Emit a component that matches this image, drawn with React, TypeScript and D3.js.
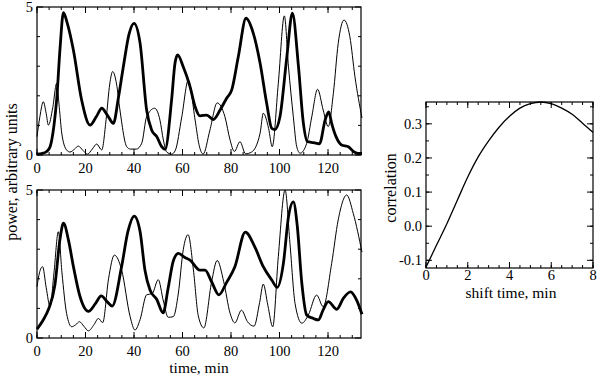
import React from 'react';
import * as d3 from 'd3';

type Pt = [number, number];

// power traces (time in min, power in arbitrary units)
const topThick: Pt[] = [
  [0, 0.03], [2, 0.05], [4, 0.12], [5.4, 0.28], [7, 1.0], [8.1, 1.86], [9.5, 3.6], [10.9, 4.81],
  [12.5, 4.45], [15, 3.55], [18.4, 1.86], [21.9, 1.01], [24.5, 1.3], [26.7, 1.58], [29, 1.35],
  [31.5, 1.07], [33.5, 1.9], [35.6, 2.98], [38, 4.1], [40, 4.45], [42.5, 3.78], [45.2, 1.52],
  [47.3, 0.84], [49.4, 0.62], [51.4, 0.28], [52.8, 0.19], [55.5, 1.86], [56.9, 3.1], [58, 3.38],
  [60.3, 2.98], [63.1, 2.31], [65.2, 1.63], [67.2, 1.32], [70, 1.35], [72.7, 1.2], [75.5, 1.52],
  [78.2, 1.92], [80.3, 2.2], [83, 3.32], [86.2, 4.62], [89.2, 4.11], [92, 3.1], [94.7, 1.75],
  [96.8, 0.9], [98.1, 0.86], [100.2, 1.3], [103, 3.3], [105.3, 4.79], [107.8, 3.0], [109.8, 1.1],
  [111.5, 0.45], [114, 0.42], [116.5, 0.38], [118.8, 1.18], [120.3, 1.46], [121.5, 1.07],
  [123.3, 0.62], [125.6, 0.34], [128.4, 0.28], [130.4, 0.12], [132.4, 0.05], [134, 0.05],
];

const topThin: Pt[] = [
  [0, 0.62], [1.2, 1.3], [2.6, 1.8], [3.8, 1.4], [4.7, 1.01], [6.5, 1.6], [8.1, 2.42], [9.2, 1.6],
  [10.2, 0.74], [12.2, 0.17], [13.6, 0.1], [15.5, 0.2], [17, 0.3], [19, 0.15], [20.8, 0.03],
  [22.8, 0.2], [24.6, 0.37], [26.7, 0.17], [28.5, 1.2], [30, 2.4], [31.2, 2.82], [32.8, 2.4],
  [34.2, 1.52], [37, 0.28], [38.5, 0.2], [41, 0.2], [43.2, 0.4], [45.2, 1.29], [48.5, 1.58],
  [50.7, 1.18], [52.1, 0.51], [53.5, 0.1], [55.5, 0.03], [57, 0.15], [59.7, 1.29], [62.4, 2.53],
  [65.2, 1.18], [66.8, 0.35], [68.5, 0.03], [71.3, 0.84], [74.3, 1.76], [77.5, 1.29], [79.6, 0.51],
  [81.4, 0.12], [83.7, 0.45], [86, 0.04], [88.5, 0.1], [92, 0.74], [93.3, 1.41], [95.5, 0.9],
  [97, 0.28], [99.5, 2.42], [102, 4.7], [103.7, 2.98], [105.7, 1.29], [107.1, 0.28], [108.5, 0.06],
  [111.2, 0.39], [113.3, 1.29], [115.7, 2.22], [118, 1.52], [120.1, 0.96], [122.2, 2.08],
  [124.2, 3.77], [126.6, 4.56], [129, 4.0], [131.1, 2.65], [134, 1.25],
];

const bottomThick: Pt[] = [
  [0, 0.3], [2.5, 0.6], [4.7, 0.96], [7.4, 1.8], [9.5, 3.35], [10.9, 3.88], [13, 3.3], [15, 2.42],
  [17.7, 1.41], [21.2, 0.9], [24, 1.15], [26.5, 1.42], [29, 1.22], [31, 1.08], [34.9, 2.42],
  [37.5, 3.6], [40.1, 4.12], [42.5, 3.6], [44.5, 2.3], [46.6, 1.62], [49.4, 1.3], [52, 0.85],
  [54.1, 1.7], [56.2, 2.6], [58.3, 2.86], [61, 2.72], [63.1, 2.63], [67.2, 2.29], [69.3, 2.29],
  [72, 1.9], [75, 1.46], [78.2, 1.88], [81.6, 2.41], [85.9, 3.58], [89.9, 3.06], [93.3, 2.41],
  [96.8, 1.96], [99.1, 1.71], [101.6, 2.52], [103.7, 4.1], [105.7, 4.6], [107.3, 3.8],
  [109.2, 1.85], [111.2, 0.78], [114, 0.66], [116, 0.61], [118, 0.95], [120.1, 1.23],
  [123.6, 0.97], [126.3, 1.34], [129.3, 1.56], [131.8, 1.28], [134, 0.8],
];

const bottomThin: Pt[] = [
  [0, 1.73], [1, 2.2], [2.3, 2.41], [3.8, 1.7], [5.4, 1.06], [7, 2.2], [8.8, 3.59], [10.3, 2.2],
  [12.2, 0.83], [14.3, 0.38], [16, 0.45], [17.5, 0.55], [19.3, 0.4], [21.2, 0.24], [23.5, 0.45],
  [25.3, 0.66], [27.1, 0.52], [29.5, 2.0], [31.9, 2.8], [34.9, 2.3], [38.4, 0.72], [40.4, 0.27],
  [42.5, 0.62], [45.2, 1.46], [47.5, 1.5], [50, 1.97], [52.1, 1.25], [54.1, 0.7], [56.2, 0.72],
  [58.3, 1.52], [60.3, 2.98], [62.3, 3.49], [64.5, 2.3], [66.5, 0.75], [68.8, 0.34], [72, 1.9],
  [74.3, 2.62], [77, 1.9], [79.6, 0.84], [81.6, 0.51], [84.3, 0.94], [86.8, 0.55], [89.5, 0.4],
  [91.8, 1.2], [93.3, 1.82], [95.2, 1.1], [97.2, 0.38], [99.5, 2.75], [102.3, 5.0], [104.3, 3.2],
  [106.4, 1.17], [109.2, 0.5], [111.9, 0.78], [115.3, 1.45], [118, 1.06], [121.5, 2.52],
  [124.2, 3.99], [127.7, 4.83], [130.4, 4.21], [134, 2.9],
];

// cross correlation vs shift time
const correlation: Pt[] = [
  [0, -0.12], [0.5, -0.056], [1, 0.007], [1.5, 0.076], [2, 0.144], [2.5, 0.203], [3, 0.25],
  [3.5, 0.29], [4, 0.322], [4.5, 0.346], [5, 0.359], [5.5, 0.364], [6, 0.359], [6.5, 0.346],
  [7, 0.328], [7.5, 0.302], [8, 0.275],
];

const timeTicks = [0, 20, 40, 60, 80, 100, 120];
const powerTicks = [0, 5];
const shiftTicks = [0, 2, 4, 6, 8];
const corrTicks = [-0.1, 0, 0.1, 0.2, 0.3];

const FONT = '"Liberation Serif", "DejaVu Serif", serif';

type FrameProps = {
  x: d3.ScaleLinear<number, number>;
  y: d3.ScaleLinear<number, number>;
  xMajor: number[];
  xMinor: number[];
  yMajor: number[];
  yMinor: number[];
  yFormat: (v: number) => string;
  labelGap: number;
};

// box with inward ticks on all four sides
const Frame = ({ x, y, xMajor, xMinor, yMajor, yMinor, yFormat, labelGap }: FrameProps) => {
  const [x0, x1] = x.range();
  const [y0, y1] = y.range(); // y0 bottom, y1 top
  const big = 6;
  const small = 3;
  return (
    <g stroke="#000" strokeWidth={1} fill="none">
      <rect x={x0} y={y1} width={x1 - x0} height={y0 - y1} strokeWidth={1.2} />
      {xMinor.map((v, i) => (
        <g key={'xm' + i}>
          <line x1={x(v)} x2={x(v)} y1={y0} y2={y0 - small} />
          <line x1={x(v)} x2={x(v)} y1={y1} y2={y1 + small} />
        </g>
      ))}
      {xMajor.map((v, i) => (
        <g key={'xM' + i}>
          <line x1={x(v)} x2={x(v)} y1={y0} y2={y0 - big} />
          <line x1={x(v)} x2={x(v)} y1={y1} y2={y1 + big} />
          <text x={x(v)} y={y0 + labelGap} textAnchor="middle" stroke="none" fill="#000"
            fontFamily={FONT} fontSize={14.5}>{v}</text>
        </g>
      ))}
      {yMinor.map((v, i) => (
        <g key={'ym' + i}>
          <line x1={x0} x2={x0 + small} y1={y(v)} y2={y(v)} />
          <line x1={x1} x2={x1 - small} y1={y(v)} y2={y(v)} />
        </g>
      ))}
      {yMajor.map((v, i) => (
        <g key={'yM' + i}>
          <line x1={x0} x2={x0 + big} y1={y(v)} y2={y(v)} />
          <line x1={x1} x2={x1 - big} y1={y(v)} y2={y(v)} />
          <text x={x0 - 4} y={y(v) + 5} textAnchor="end" stroke="none" fill="#000"
            fontFamily={FONT} fontSize={14.5}>{yFormat(v)}</text>
        </g>
      ))}
    </g>
  );
};

const App = () => {
  const width = 600;
  const height = 375;

  const xTime = d3.scaleLinear().domain([0, 133.6]).range([37, 361]);
  const yTop = d3.scaleLinear().domain([0, 5]).range([155, 7]);
  const yBot = d3.scaleLinear().domain([0, 5]).range([338, 190]);

  const xShift = d3.scaleLinear().domain([0, 8]).range([426, 593]);
  const yCorr = d3.scaleLinear().domain([-0.1225, 0.364]).range([268, 102]);

  const timeMinor = d3.range(0, 134, 5);
  const powerMinor = [1, 2, 3, 4];
  const shiftMinor = d3.range(0, 8.01, 0.5);
  const corrMinor = d3.range(-0.1, 0.36, 0.05);

  const lineTop = d3.line<Pt>().x(d => xTime(d[0])).y(d => yTop(d[1])).curve(d3.curveMonotoneX);
  const lineBot = d3.line<Pt>().x(d => xTime(d[0])).y(d => yBot(d[1])).curve(d3.curveMonotoneX);
  const lineCorr = d3.line<Pt>().x(d => xShift(d[0])).y(d => yCorr(d[1])).curve(d3.curveMonotoneX);

  const intFmt = (v: number) => String(v);
  const corrFmt = (v: number) => d3.format('.1f')(v).replace('−', '-');

  return (
    <svg width={width} height={height} style={{ position: 'absolute', left: 0, top: 0, background: '#fff' }}>
      <rect width={width} height={height} fill="#fff" />

      {/* top panel */}
      <path d={lineTop(topThin) || ''} fill="none" stroke="#000" strokeWidth={1} />
      <path d={lineTop(topThick) || ''} fill="none" stroke="#000" strokeWidth={2.8} strokeLinejoin="round" />
      <Frame x={xTime} y={yTop} xMajor={timeTicks} xMinor={timeMinor}
        yMajor={powerTicks} yMinor={powerMinor} yFormat={intFmt} labelGap={18} />

      {/* bottom panel */}
      <path d={lineBot(bottomThin) || ''} fill="none" stroke="#000" strokeWidth={1} />
      <path d={lineBot(bottomThick) || ''} fill="none" stroke="#000" strokeWidth={2.8} strokeLinejoin="round" />
      <Frame x={xTime} y={yBot} xMajor={timeTicks} xMinor={timeMinor}
        yMajor={powerTicks} yMinor={powerMinor} yFormat={intFmt} labelGap={18} />

      <text transform="translate(17,172) rotate(-90)" textAnchor="middle"
        fontFamily={FONT} fontSize={16}>power, arbitrary units</text>
      <text x={199} y={373} textAnchor="middle" fontFamily={FONT} fontSize={15.5}>time, min</text>

      {/* correlation panel */}
      <path d={lineCorr(correlation) || ''} fill="none" stroke="#000" strokeWidth={1.3} />
      <Frame x={xShift} y={yCorr} xMajor={shiftTicks} xMinor={shiftMinor}
        yMajor={corrTicks} yMinor={corrMinor} yFormat={corrFmt} labelGap={12} />

      <text transform="translate(396,188) rotate(-90)" textAnchor="middle"
        fontFamily={FONT} fontSize={16}>correlation</text>
      <text x={511} y={297.5} textAnchor="middle" fontFamily={FONT} fontSize={15.5}>shift time, min</text>
    </svg>
  );
};

export default App;
